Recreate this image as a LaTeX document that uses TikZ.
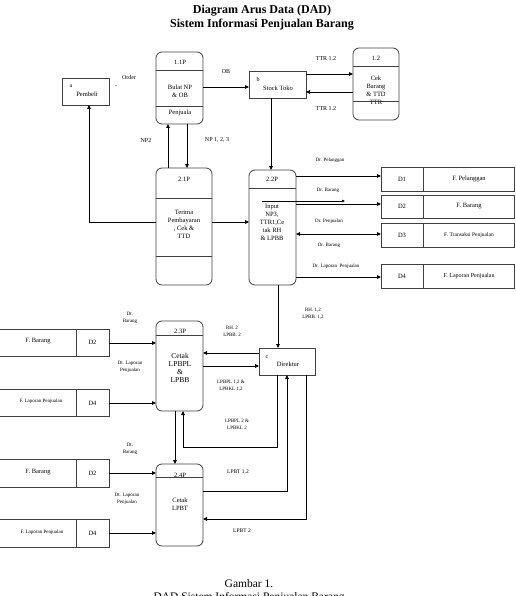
\documentclass[tikz,border=0pt]{standalone}
\usepackage{fontspec}
\setmainfont{Liberation Serif}
\usetikzlibrary{arrows.meta}
\begin{document}
\begin{tikzpicture}[x=1pt,y=-1pt,
  proc/.style={draw=black!75, line width=0.8pt, rounded corners=6pt, inner sep=0pt, outer sep=0pt},
  ebox/.style={draw=black!75, line width=0.8pt, inner sep=0pt, outer sep=0pt},
  arr/.style={line width=0.8pt, -{Triangle[length=4pt,width=3.6pt]}},
  dline/.style={line width=0.8pt},
  divl/.style={draw=black!75, line width=0.7pt},
  tx/.style={inner sep=0pt, align=center, font=\fontsize{6.5}{8}\selectfont},
  tt/.style={inner sep=0pt, align=center, font=\fontsize{6}{7}\selectfont},
  lb/.style={inner sep=0pt, align=center, font=\fontsize{5}{7.2}\selectfont}]
\useasboundingbox (0,0) rectangle (515,596);

% title
\node[inner sep=0pt, align=center, font=\bfseries\fontsize{12}{14}\selectfont] (title) at (262,18) {Diagram Arus Data (DAD)\\Sistem Informasi Penjualan Barang};

% external entities
\node[ebox, minimum width=47pt, minimum height=27pt] (Pembeli) at (85.5,91.5) {};
\node[tt] (ta) at (71,86) {a};
\node[tx] (tpembeli) at (87,94.5) {Pembeli};
\node[ebox, minimum width=57pt, minimum height=27pt] (Stock) at (277.5,84.5) {};
\node[tt] (tb) at (258,79) {b};
\node[tx] (tstock) at (278,88) {Stock Toko};
\node[ebox, minimum width=56pt, minimum height=27pt] (Dir) at (287,361.5) {};
\node[tt] (tc) at (267,357) {c};
\node[tx] (tdir) at (288,364.5) {Direktur};

% processes
\node[proc, minimum width=47pt, minimum height=72pt] (P11) at (179.5,88) {};
\draw[divl] (P11.west |- 0,70) -- (P11.east |- 0,70);
\draw[divl] (P11.west |- 0,106) -- (P11.east |- 0,106);
\node[tx] (t11a) at (180,62) {1.1P};
\node[tx] (t11b) at (180,91) {Bulat NP\\\& OB};
\node[tx] (t11c) at (180,113) {Penjuala};

\node[proc, minimum width=46pt, minimum height=72pt] (P12) at (376,84) {};
\draw[divl] (P12.west |- 0,66) -- (P12.east |- 0,66);
\node[tx] (t12a) at (376,58) {1.2};
\node[tx] (t12b) at (376,90) {Cek\\Barang\\\& TTD\\TTR};
\draw[divl] (P12.west |- 0,101) -- (P12.east |- 0,101);

\node[proc, minimum width=56pt, minimum height=117pt] (P21) at (184,226.5) {};
\draw[divl] (P21.west |- 0,198) -- (P21.east |- 0,198);
\draw[divl] (P21.west |- 0,256) -- (P21.east |- 0,256);
\node[tx] (t21a) at (184,179.5) {2.1P};
\node[tx] (t21b) at (184,224) {Terima\\Pembayaran\\, Cek \&\\TTD};

\node[proc, minimum width=47pt, minimum height=115pt] (P22) at (272.5,227.5) {};
\draw[divl] (P22.west |- 0,188) -- (P22.east |- 0,188);
\node[tx] (t22a) at (272,179.5) {2.2P};
\node[tx] (t22b) at (272,222) {Input\\NP3,\\TTR1,Ce\\tak RH\\\& LPBB};

\node[proc, minimum width=47pt, minimum height=90pt] (P23) at (179.5,366) {};
\draw[divl] (P23.west |- 0,335) -- (P23.east |- 0,335);
\node[tx] (t23a) at (180,331.5) {2.3P};
\node[inner sep=0pt, align=center, font=\fontsize{7.5}{7.8}\selectfont] (t23b) at (180,368) {Cetak\\LPBPL\\\&\\LPBB};

\node[proc, minimum width=47pt, minimum height=82pt] (P24) at (179.5,505) {};
\draw[divl] (P24.west |- 0,477) -- (P24.east |- 0,477);
\node[tx] (t24a) at (180,475) {2.4P};
\node[tx] (t24b) at (180,504) {Cetak\\LPBT};

% data stores right
\node[ebox, minimum width=133pt, minimum height=24pt] (D1) at (447.5,179) {};
\draw[divl] (D1.north -| 423,0) -- (D1.south -| 423,0);
\node[tx] (tD1a) at (402,179) {D1};
\node[tx] (tD1b) at (469,179) {F. Pelanggan};
\node[ebox, minimum width=133pt, minimum height=23pt] (D2) at (447.5,206.5) {};
\draw[divl] (D2.north -| 423,0) -- (D2.south -| 423,0);
\node[tx] (tD2a) at (402,206.5) {D2};
\node[tx] (tD2b) at (469,206.5) {F. Barang};
\node[ebox, minimum width=133pt, minimum height=24pt] (D3) at (447.5,235) {};
\draw[divl] (D3.north -| 423,0) -- (D3.south -| 423,0);
\node[tx] (tD3a) at (402,235) {D3};
\node[inner sep=0pt, font=\fontsize{5.5}{7}\selectfont] (tD3b) at (469,235) {F. Transaksi Penjualan};
\node[ebox, minimum width=133pt, minimum height=24pt] (D4) at (447.5,276) {};
\draw[divl] (D4.north -| 423,0) -- (D4.south -| 423,0);
\node[tx] (tD4a) at (402,276) {D4};
\node[inner sep=0pt, font=\fontsize{6}{7}\selectfont] (tD4b) at (469,276.5) {F. Laporan Penjualan};

% data stores left
\node[ebox, minimum width=111pt, minimum height=27pt] (L1) at (53.5,342.5) {};
\draw[divl] (L1.north -| 76,0) -- (L1.south -| 76,0);
\node[tx] (tL1a) at (38,341.5) {F. Barang};
\node[tx] (tL1b) at (92.5,342.5) {D2};
\node[ebox, minimum width=111pt, minimum height=27pt] (L2) at (53.5,402.5) {};
\draw[divl] (L2.north -| 76,0) -- (L2.south -| 76,0);
\node[inner sep=0pt, font=\fontsize{5}{6}\selectfont] (tL2a) at (41,401.5) {F. Laporan Penjualan};
\node[tx] (tL2b) at (92.5,403) {D4};
\node[ebox, minimum width=111pt, minimum height=28pt] (L3) at (53.5,473) {};
\draw[divl] (L3.north -| 76,0) -- (L3.south -| 76,0);
\node[tx] (tL3a) at (38,472) {F. Barang};
\node[tx] (tL3b) at (92.5,473) {D2};
\node[ebox, minimum width=111pt, minimum height=28pt] (L4) at (53.5,533) {};
\draw[divl] (L4.north -| 76,0) -- (L4.south -| 76,0);
\node[inner sep=0pt, font=\fontsize{5}{6}\selectfont] (tL4a) at (42,532) {F. Laporan Penjualan};
\node[tx] (tL4b) at (92.5,533) {D4};

% connectors top
\node[tt] (lorder) at (129,77) {Order};
\node[tt] (ldash) at (116,87) {-};
\draw[arr] (P11.east |- 0,87) -- (Stock.west |- 0,87);
\node[tt] (lob) at (226,72) {OB};
\draw[arr] (Stock.east |- 0,74) -- (P12.west |- 0,74);
\node[tt] (lttr1) at (326,59) {TTR 1.2};
\draw[arr] (P12.west |- 0,92) -- (Stock.east |- 0,92);
\node[tt] (lttr2) at (326,109) {TTR 1.2};
\draw[arr] (Stock.south -| 271,0) -- (P22.north -| 271,0);

\draw[arr] (P21.north -| 168,0) -- (P11.south -| 168,0);
\node[tt] (lnp2) at (146,141) {NP2};
\draw[arr] (P11.south -| 187,0) -- (P21.north -| 187,0);
\node[tt] (lnp) at (217,140) {NP 1, 2, 3};

\draw[arr] (P21.west |- 0,222) -| (Pembeli.south -| 89,0);
\draw[arr] (P21.east |- 0,222) -- (P22.west |- 0,222);

% 2.2P to stores
\draw[arr] (P22.east |- 0,176) -- (D1.west |- 0,176);
\node[lb] (l1) at (330,160) {Dr. Pelanggan};
\draw[line width=0.6pt, -{Triangle[length=3pt,width=2.5pt]}] (P22.west |- 0,201) ++(13,0) coordinate (art) -- (art -| 345,0);
\draw[arr] (P22.east |- 0,204) -- (D2.west |- 0,204);
\node[lb] (l2) at (328,190) {Dr. Barang};
\draw[line width=0.8pt, {Triangle[length=4pt,width=3.6pt]}-{Triangle[length=4pt,width=3.6pt]}] (P22.east |- 0,234) -- (D3.west |- 0,234);
\node[lb] (l3) at (329,221) {Dr. Penjualan};
\node[lb] (l4) at (329,245) {Dr. Barang};
\draw[arr] (P22.east |- 0,277) -- (D4.west |- 0,277);
\node[lb] (l5) at (336,266) {Dr. Laporan~~Penjualan};

% 2.2P to Direktur
\draw[arr] (P22.south -| 278,0) -- (Dir.north -| 278,0);
\node[lb] (l6) at (313,313.5) {RH. 1,2\\LPBB. 1,2};

% Direktur <-> 2.3P
\draw[arr] (Dir.west |- 0,353) -- (P23.east |- 0,353);
\node[lb] (l7) at (232,331.5) {RH. 2\\LPBB. 2};
\draw[arr] (P23.east |- 0,366) -- (Dir.west |- 0,366);
\node[lb] (l8) at (231,385.5) {LPBPL 1,2 \&\\LPBKL 1,2};
\draw[arr] (Dir.south -| 277,0) -- (277,447) -| (P23.south -| 183,0);
\node[lb] (l9) at (237,424.5) {LPBPL 2 \&\\LPBKL 2};

% 2.3P to 2.4P
\draw[arr] (P23.south -| 175,0) -- (P24.north -| 175,0);

% 2.4P <-> Direktur
\draw[arr] (P24.east |- 0,491) -| (Dir.south -| 287,0);
\node[lb, font=\fontsize{5.5}{7}\selectfont] (l10) at (238,472) {LPBT 1,2};
\draw[arr] (Dir.south -| 306,0) |- (P24.east |- 0,519);
\node[lb, font=\fontsize{5.5}{7}\selectfont] (l11) at (242,531) {LPBT 2};

% left stores to processes
\draw[arr] (L1.east |- 0,343) -- (P23.west |- 0,343);
\node[lb] (l12) at (130,317.5) {Dt.\\Barang};
\draw[arr] (L2.east |- 0,403) -- (P23.west |- 0,403);
\node[lb] (l13) at (130,367) {Dt. Laporan\\Penjualan};
\draw[arr] (L3.east |- 0,473) -- (P24.west |- 0,473);
\node[lb] (l14) at (130,448.5) {Dt.\\Barang};
\draw[arr] (L4.east |- 0,533) -- (P24.west |- 0,533);
\node[lb] (l15) at (127,498.5) {Dt. Laporan\\Penjualan};

% caption
\node[inner sep=0pt, align=center, font=\fontsize{11.5}{13.5}\selectfont] (cap) at (249,591) {Gambar 1.\\DAD Sistem Informasi Penjualan Barang};
\end{tikzpicture}
\end{document}
